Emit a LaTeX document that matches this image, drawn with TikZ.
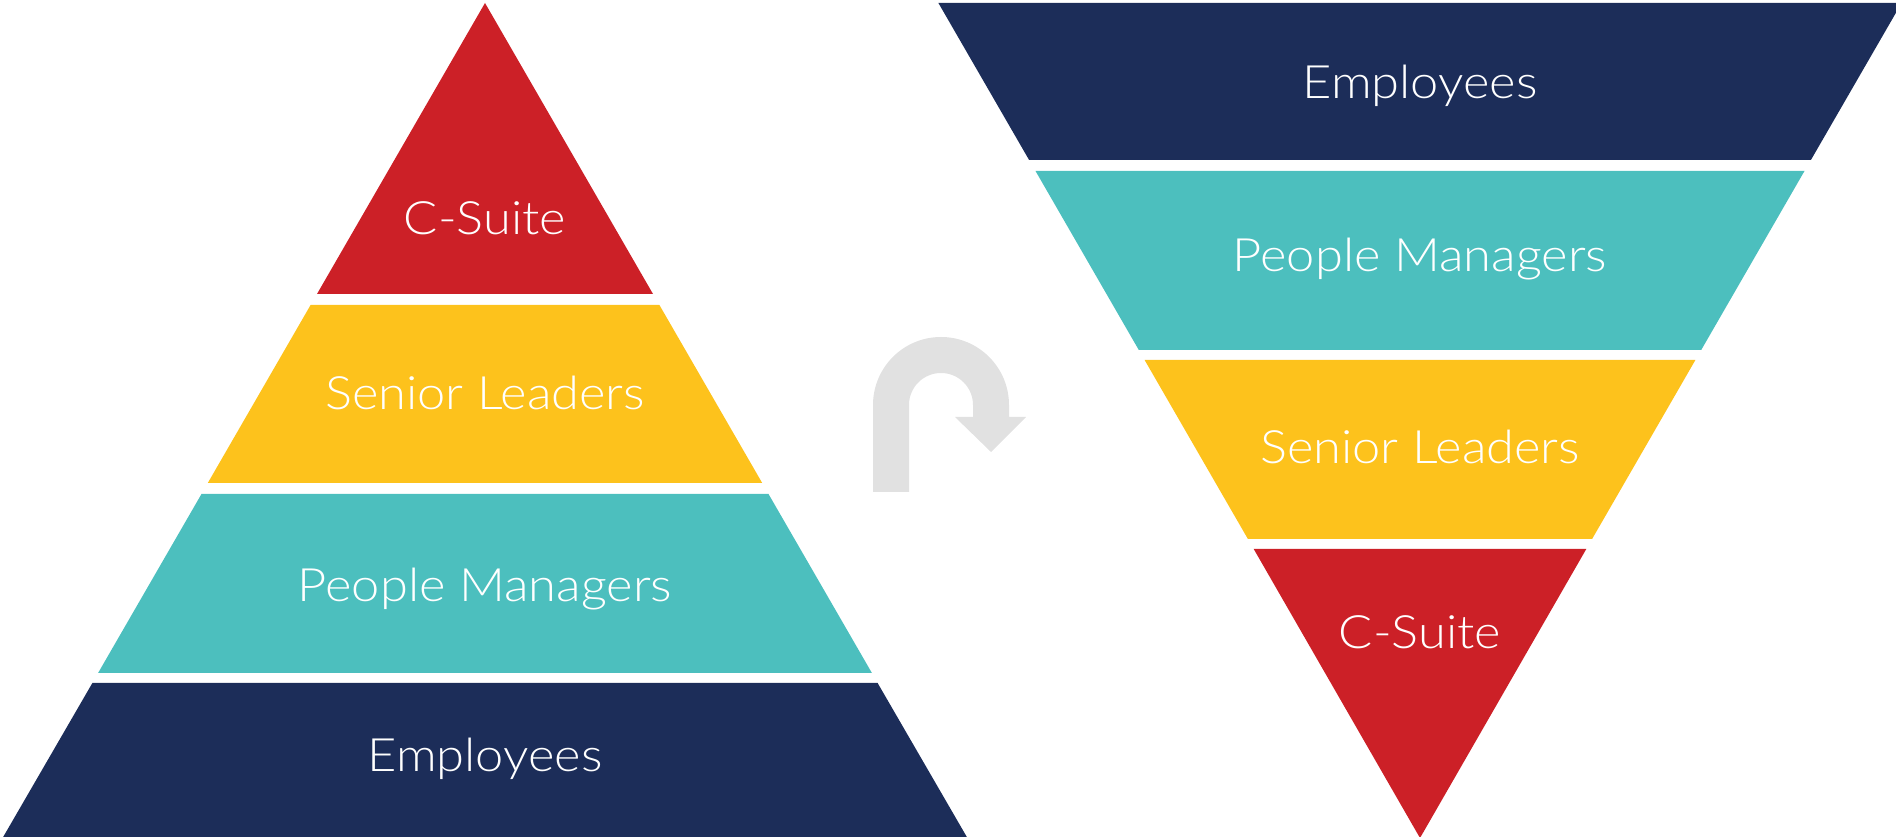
\documentclass[tikz,border=0pt]{standalone}
\usepackage{fontspec}
\setmainfont{Lato Light}[FakeStretch=1.1]
\begin{document}
\begin{tikzpicture}[x=1pt,y=1pt,
  lbl/.style={text=white,font=\fontsize{46}{50}\selectfont,anchor=base,inner sep=0pt}]
\definecolor{csuite}{HTML}{CC2027}
\definecolor{senior}{HTML}{FDC21C}
\definecolor{people}{HTML}{4CBFBE}
\definecolor{staff}{HTML}{1C2D59}
\definecolor{uturngray}{HTML}{E1E1E1}
\useasboundingbox (0,0) rectangle (1896,837);
\begin{scope}
\clip (0,0) rectangle (1896,837);
% upright pyramid
\fill[csuite] (485,834) -- (653,543) -- (317,543) -- cycle;
\fill[senior] (310.6,532) -- (659.4,532) -- (762.2,354) -- (207.8,354) -- cycle;
\fill[people] (201.5,343) -- (768.5,343) -- (871.9,164) -- (98.1,164) -- cycle;
\fill[staff] (92.4,154) -- (877.6,154) -- (968,-2) -- (2,-2) -- cycle;
% inverted pyramid
\fill[staff] (938.4,834) -- (1901.6,834) -- (1810.9,677) -- (1029.1,677) -- cycle;
\fill[people] (1035.5,666) -- (1804.5,666) -- (1701.2,487) -- (1138.8,487) -- cycle;
\fill[senior] (1144.6,477) -- (1695.4,477) -- (1592.1,298) -- (1247.9,298) -- cycle;
\fill[csuite] (1253.7,288) -- (1586.3,288) -- (1420,-1) -- cycle;
% U-turn arrow
\fill[uturngray] (873,345) -- (873,432) arc[start angle=180,end angle=0,radius=68pt]
  -- (1009,420) -- (1026,420) -- (991,385) -- (955,420) -- (973,420) -- (973,432)
  arc[start angle=0,end angle=180,radius=32pt] -- (909,345) -- cycle;
\end{scope}
% labels, upright pyramid
\node[lbl] (lc) at (485,602) {C-Suite};
\node[lbl] (ls) at (485,427) {Senior Leaders};
\node[lbl] (lp) at (485,235) {People Managers};
\node[lbl] (le) at (485,65) {Employees};
% labels, inverted pyramid
\node[lbl] (re) at (1420,738) {Employees};
\node[lbl] (rp) at (1420,565) {People Managers};
\node[lbl] (rs) at (1420,373) {Senior Leaders};
\node[lbl] (rc) at (1420,188) {C-Suite};
\end{tikzpicture}
\end{document}
